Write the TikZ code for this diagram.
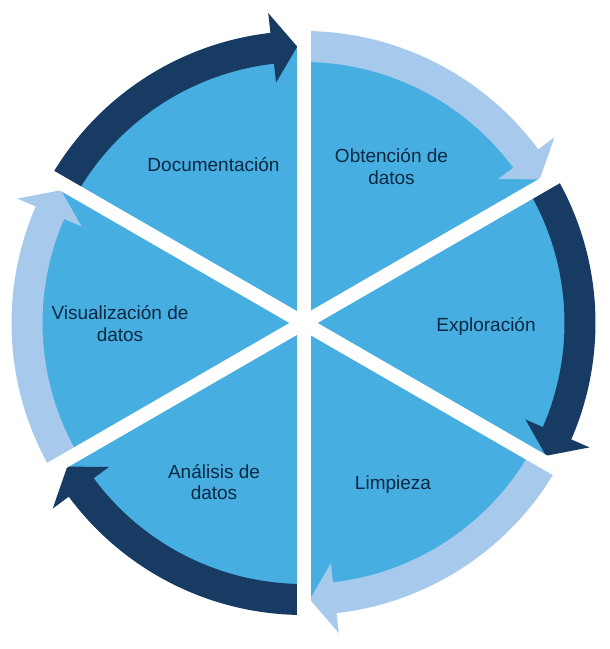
\documentclass[tikz,border=0pt]{standalone}
\usepackage{fontspec}
\setmainfont{Liberation Sans}
\definecolor{pieblue}{HTML}{46AEE0}
\definecolor{arrowdark}{HTML}{173B63}
\definecolor{arrowlight}{HTML}{A6C9EC}
\definecolor{labeltext}{HTML}{0E2841}
\begin{document}
\begin{tikzpicture}[x=1pt,y=1pt,
  label/.style={font=\fontsize{19}{22}\selectfont, text=labeltext, align=center, anchor=base, inner sep=0pt},
  gapline/.style={draw=white, line width=14pt},
  ]
\useasboundingbox (0,0) rectangle (610,649);
\coordinate (c) at (303.5,326);
% pie disc
\fill[pieblue] (c) circle[radius=276];
% cycle arrows: start angle, tip angle, colour
\begin{scope}[shift={(c)}]
\foreach \a/\b/\col in {150/91.3/arrowdark, 90/31.3/arrowlight, 30/-28.7/arrowdark,
                         -30/-88.7/arrowlight, -90/-148.7/arrowdark, 210/151.3/arrowlight}{
  \pgfmathsetmacro{\h}{\b+5.2}
  \fill[\col] (\a:292) arc[start angle=\a, end angle=\h, radius=292]
    -- (\h:312) -- (\b:276.5) -- (\h:242) -- (\h:261)
    arc[start angle=\h, end angle=\a, radius=261] -- cycle;
}
% white gaps between the slices
\coordinate (o) at (0,0);
\foreach \t in {30,90,150,210,270,330}{
  \coordinate (e\t) at (\t:330);
  \draw[gapline] (o) -- (e\t);
}
\end{scope}
% slice labels (two-line labels are placed by their last baseline)
\node[label] (doc) at (213.5,477) {Documentación};
\node[label] (obt) at (391.5,464) {Obtención de\\datos};
\node[label] (exp) at (486,317) {Exploración};
\node[label] (lim) at (393,159) {Limpieza};
\node[label] (ana) at (214,149) {Análisis de\\datos};
\node[label] (vis) at (120,307) {Visualización de\\datos};
\end{tikzpicture}
\end{document}
